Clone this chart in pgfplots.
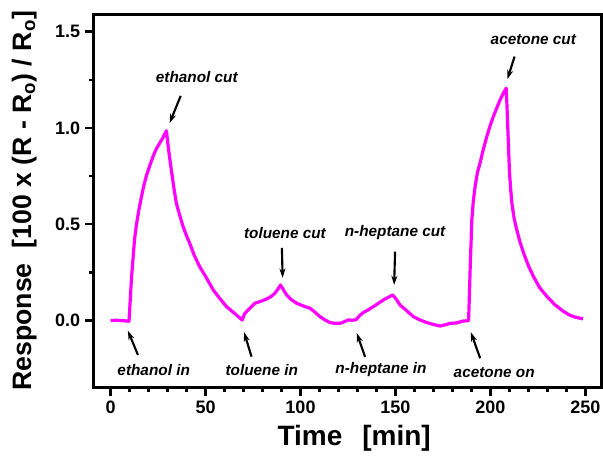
\documentclass[border=0pt]{standalone}
\usepackage{fontspec}
\setmainfont{Liberation Sans}
\usepackage{pgfplots}
\pgfplotsset{compat=1.18}
\usetikzlibrary{calc,arrows.meta}
\definecolor{mag}{RGB}{255,0,255}
\begin{document}
\begin{tikzpicture}[x=1pt,y=1pt]
\begin{axis}[
  scale only axis,
  width=381pt, height=280pt,
  xmin=-9, xmax=258.5, ymin=-0.347, ymax=1.59,
  axis line style={line width=2pt},
  xtick={0,50,...,250}, minor x tick num=4,
  ytick={0,0.5,1.0,1.5}, minor y tick num=1,
  tick align=outside, xtick pos=left, ytick pos=left,
  major tick length=6.5pt, minor tick length=3.5pt,
  every tick/.style={line width=1.8pt, black},
  tick label style={font=\bfseries\fontsize{13.5}{13.5}\selectfont},
  /pgf/number format/assume math mode=true,
  yticklabel style={/pgf/number format/.cd, fixed, fixed zerofill, precision=1},
  xticklabel style={/pgf/number format/.cd, fixed, precision=0},
  xlabel={Time\hspace{15pt}[min]},
  ylabel={Response\ \ [100 x (R - R\textsubscript{o}) / R\textsubscript{o}]},
  xlabel style={font=\bfseries\fontsize{21}{21}\selectfont, yshift=-2pt, xshift=5pt},
  ylabel style={font=\bfseries\fontsize{20}{20}\selectfont, yshift=7pt},
  clip=false,
]
\addplot[mag, line width=2.4pt, line join=round] coordinates {
(0,0) (3,0.002) (6,0) (9.7,-0.003) (10.3,0.1) (11,0.22) (11.8,0.32) (12.6,0.42)
(13.5,0.49) (14.8,0.57) (16.2,0.64) (17.5,0.70) (18.8,0.75) (20.5,0.80) (22.3,0.85)
(24,0.89) (25.8,0.92) (27.6,0.95) (29.4,0.985) (30.5,0.89) (32,0.78) (33.3,0.69)
(34.6,0.61) (36.3,0.55) (38.1,0.49) (40,0.44) (41.7,0.40) (44,0.34) (46.9,0.28)
(50,0.23) (54,0.16) (57.5,0.115) (61,0.073) (65,0.04) (69.3,0.003) (70.5,0.035)
(72.4,0.055) (75.9,0.09) (79,0.10) (82.1,0.112) (84.5,0.125) (86.5,0.142) (88.2,0.165)
(89.5,0.185) (91,0.16) (92.7,0.133) (95,0.11) (98,0.09) (101,0.078) (105,0.064)
(107.5,0.045) (110.2,0.021) (113,0.003) (115.5,-0.01) (118,-0.014) (120.8,-0.014)
(123,-0.006) (125.2,0.004) (127,0.002) (129.2,0.004) (131,0.025) (133.1,0.042)
(135.5,0.055) (138.4,0.073) (141,0.09) (143.6,0.107) (146,0.12) (148.6,0.133)
(150.5,0.11) (152.4,0.081) (155.5,0.055) (159.4,0.021) (163,0.003) (166.5,-0.01)
(170,-0.02) (173.5,-0.028) (176,-0.022) (178.8,-0.014) (182,-0.012) (185.8,-0.002)
(188.5,0.0) (189.0,0.15) (189.3,0.26) (189.8,0.40) (190.2,0.52) (191,0.62) (192,0.70)
(193.2,0.77) (194.6,0.82) (196.3,0.89) (198.1,0.955) (199.8,1.01) (201.6,1.06)
(203.4,1.105) (205.1,1.145) (206.8,1.18) (208.3,1.206) (208.7,1.12) (209,1.04)
(209.5,0.91) (210,0.78) (210.6,0.69) (211.3,0.61) (212.5,0.53) (213.9,0.47)
(215.5,0.41) (217.5,0.35) (220,0.285) (222.7,0.228) (226,0.17) (229.8,0.125)
(234,0.082) (238.6,0.047) (241.5,0.03) (244.7,0.018) (248.8,0.009)
};
\tikzset{ann/.style={font=\bfseries\itshape\fontsize{11.5}{11.5}\selectfont},
         arr/.style={line width=1.6pt, -{Stealth[length=7pt,width=4.5pt]}}}
\node[ann] at (axis cs:45.4,1.265) {ethanol cut};
\draw[arr] (axis cs:36.9,1.166) -- (axis cs:31.1,1.025);
\node[ann] at (axis cs:91.8,0.455) {toluene cut};
\draw[arr] (axis cs:90.2,0.377) -- (axis cs:90.6,0.222);
\node[ann] at (axis cs:149.8,0.455) {n-heptane cut};
\draw[arr] (axis cs:149.8,0.358) -- (axis cs:149.3,0.185);
\node[ann] at (axis cs:222.6,1.457) {acetone cut};
\draw[arr] (axis cs:212.7,1.37) -- (axis cs:209,1.253);
\node[ann] at (axis cs:22.7,-0.256) {ethanol in};
\draw[arr] (axis cs:14.4,-0.178) -- (axis cs:9.1,-0.052);
\node[ann] at (axis cs:79.6,-0.256) {toluene in};
\draw[arr] (axis cs:74.2,-0.187) -- (axis cs:70.3,-0.06);
\node[ann] at (axis cs:142.4,-0.256) {n-heptane in};
\draw[arr] (axis cs:134,-0.188) -- (axis cs:129.6,-0.064);
\node[ann] at (axis cs:202,-0.271) {acetone on};
\draw[arr] (axis cs:194.6,-0.195) -- (axis cs:189.7,-0.06);
\end{axis}
\pgfresetboundingbox
\path[use as bounding box] ($(current axis.south west)+(-93.5*0.75,-67.5*0.75)$) rectangle ++(603*0.75,455*0.75);
\end{tikzpicture}
\end{document}
